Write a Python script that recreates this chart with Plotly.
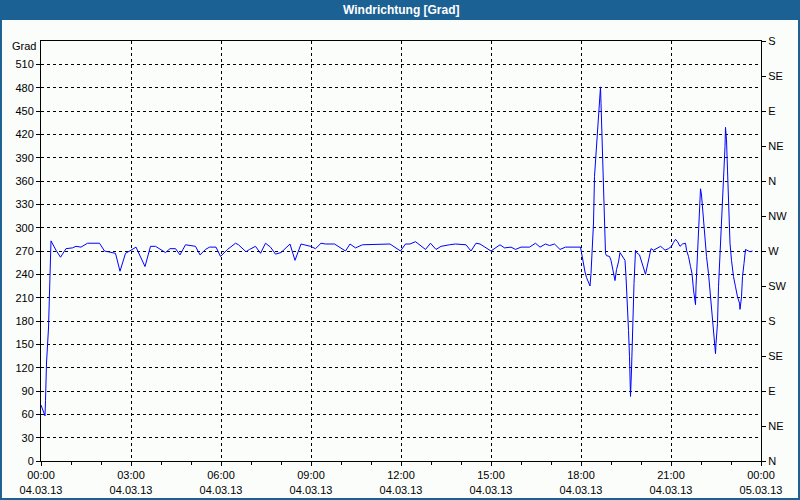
import plotly.graph_objs as go
import pandas as pd

# minutes after 04.03.13 00:00 and wind direction in degrees
minutes = [0, 5, 8, 9, 11, 15, 18, 20, 30, 39, 50, 63, 70, 80, 93, 117, 127, 140, 149, 158,
           169, 180, 190, 208, 219, 229, 249, 258, 269, 278, 289, 309, 318, 329, 337, 350,
           359, 373, 389, 395, 410, 417, 429, 439, 449, 459, 469, 480, 498, 508, 520, 539,
           549, 560, 569, 587, 597, 609, 618, 629, 643, 698, 719, 729, 738, 749, 769, 779,
           790, 800, 817, 829, 850, 860, 870, 878, 900, 910, 918, 927, 940, 949, 960, 977,
           989, 998, 1009, 1017, 1027, 1038, 1049, 1079, 1083, 1088, 1091, 1098, 1100, 1102,
           1105, 1107, 1110, 1115, 1117, 1119, 1120, 1122, 1125, 1127, 1129, 1131, 1137, 1140,
           1143, 1148, 1151, 1155, 1158, 1163, 1168, 1170, 1173, 1175, 1177, 1178, 1179, 1181,
           1183, 1186, 1189, 1191, 1197, 1200, 1205, 1209, 1213, 1217, 1220, 1225, 1230, 1235,
           1239, 1243, 1248, 1255, 1261, 1265, 1269, 1273, 1278, 1283, 1289, 1291, 1295, 1299,
           1302, 1305, 1307, 1309, 1310, 1313, 1315, 1317, 1319, 1321, 1323, 1326, 1329, 1331,
           1335, 1338, 1341, 1345, 1347, 1349, 1350, 1353, 1355, 1358, 1361, 1365, 1367, 1368,
           1369, 1371, 1373, 1375, 1378, 1381, 1385, 1389, 1393, 1397, 1398, 1401, 1403, 1406,
           1409, 1415, 1418, 1423]
degrees = [72, 63, 58, 78, 126, 171, 261, 283, 271, 262, 273, 274, 276, 275, 280, 280, 270, 268, 267, 244,
           267, 271, 275, 250, 276, 276, 268, 273, 273, 265, 278, 276, 265, 272, 275, 275,
           263, 272, 280, 278, 269, 272, 276, 267, 280, 275, 266, 268, 279, 258, 279, 276,
           273, 280, 279, 279, 275, 270, 279, 274, 278, 279, 270, 279, 279, 282, 272, 280,
           272, 276, 278, 279, 278, 270, 280, 279, 270, 274, 278, 274, 275, 272, 275, 275,
           280, 275, 279, 277, 279, 272, 275, 275, 258, 243, 236, 225, 241, 271,
           306, 366, 393, 451, 468, 481, 460, 417, 374, 331, 267, 264, 263, 258,
           246, 232, 246, 256, 268, 263, 258, 237, 203, 168, 134, 100, 83, 117,
           177, 228, 271, 268, 265, 258, 249, 240, 252, 265, 273, 271, 273, 275,
           276, 274, 271, 273, 276, 281, 285, 282, 276, 279, 280, 271, 263, 250,
           241, 220, 207, 201, 224, 271, 310, 340, 350, 342, 325, 306, 284, 263,
           241, 220, 194, 168, 151, 138, 151, 177, 224, 263, 306, 353, 376, 404,
           429, 413, 374, 323, 280, 258, 237, 224, 211, 203, 195, 211, 237, 254,
           272, 270, 269, 270]

compass_vals = [0, 45, 90, 135, 180, 225, 270, 315, 360, 405, 450, 495, 540]
compass_text = ['N', 'NE', 'E', 'SE', 'S', 'SW', 'W', 'NW', 'N', 'NE', 'E', 'SE', 'S']
grad_vals = list(range(0, 540, 30))

start = pd.Timestamp('2013-03-04 00:00')
times = [start + pd.Timedelta(minutes=m) for m in minutes]

FONT = 'Liberation Sans'
BLUE = '#1c6194'

fig = go.Figure()
fig.add_trace(go.Scatter(x=times, y=degrees, mode='lines',
                         line=dict(color='#0000ff', width=1), showlegend=False))
# invisible copy so the compass axis gets drawn
fig.add_trace(go.Scatter(x=times, y=degrees, mode='lines', yaxis='y2', opacity=0,
                         hoverinfo='skip', showlegend=False))

fig.update_layout(
    width=800, height=500,
    margin=dict(l=41, r=39, t=41, b=39, autoexpand=False),
    paper_bgcolor='#fbfdfb', plot_bgcolor='#fbfdfb',
    font=dict(family=FONT, size=11, color='black'),
    xaxis=dict(type='date', range=[start, start + pd.Timedelta(days=1)],
               dtick=3 * 3600000, tick0=start, tickformat='%H:%M<br>%d.%m.%y',
               ticks='outside', ticklen=4, tickcolor='black', automargin=False,
               showline=True, linecolor='black', linewidth=1, mirror=True,
               showgrid=True, gridcolor='black', gridwidth=1, griddash='3px,3px',
               zeroline=False,
               minor=dict(dtick=3600000, tick0=start, ticks='outside', ticklen=3,
                          tickcolor='black', showgrid=False)),
    yaxis=dict(range=[0, 540], tickvals=grad_vals, ticks='outside', ticklen=4,
               tickcolor='black', showline=True, linecolor='black', linewidth=1,
               mirror=True, showgrid=True, gridcolor='black', gridwidth=1,
               griddash='3px,3px', zeroline=False, automargin=False),
    yaxis2=dict(range=[0, 540], overlaying='y', side='right', tickvals=compass_vals,
                ticktext=compass_text, ticks='outside', ticklen=4, tickcolor='black',
                showline=True, linecolor='black', linewidth=1, showgrid=False,
                zeroline=False, automargin=False),
    shapes=[
        dict(type='rect', xref='paper', yref='paper', x0=-0.0569, x1=1.0542,
             y0=1.05, y1=1.0976, fillcolor=BLUE, line=dict(width=0), layer='below'),
        dict(type='rect', xref='paper', yref='paper', x0=-0.0556, x1=1.0528,
             y0=-0.0905, y1=1.0976, line=dict(color=BLUE, width=2)),
    ],
    annotations=[
        dict(text='<b>Windrichtung [Grad]</b>', xref='paper', yref='paper', x=0.5,
             y=1.0738, xanchor='center', yanchor='middle', showarrow=False,
             font=dict(color='white', size=12, family=FONT)),
        dict(text='Grad', xref='paper', yref='paper', x=-0.004, y=0.988,
             xanchor='right', yanchor='middle', showarrow=False,
             font=dict(size=11, family=FONT)),
    ],
)

# page body margin would shift the chart by 8px inside the window
fig.write_html("out.html", config={'displayModeBar': False},
               post_script="document.body.style.margin='0';")
